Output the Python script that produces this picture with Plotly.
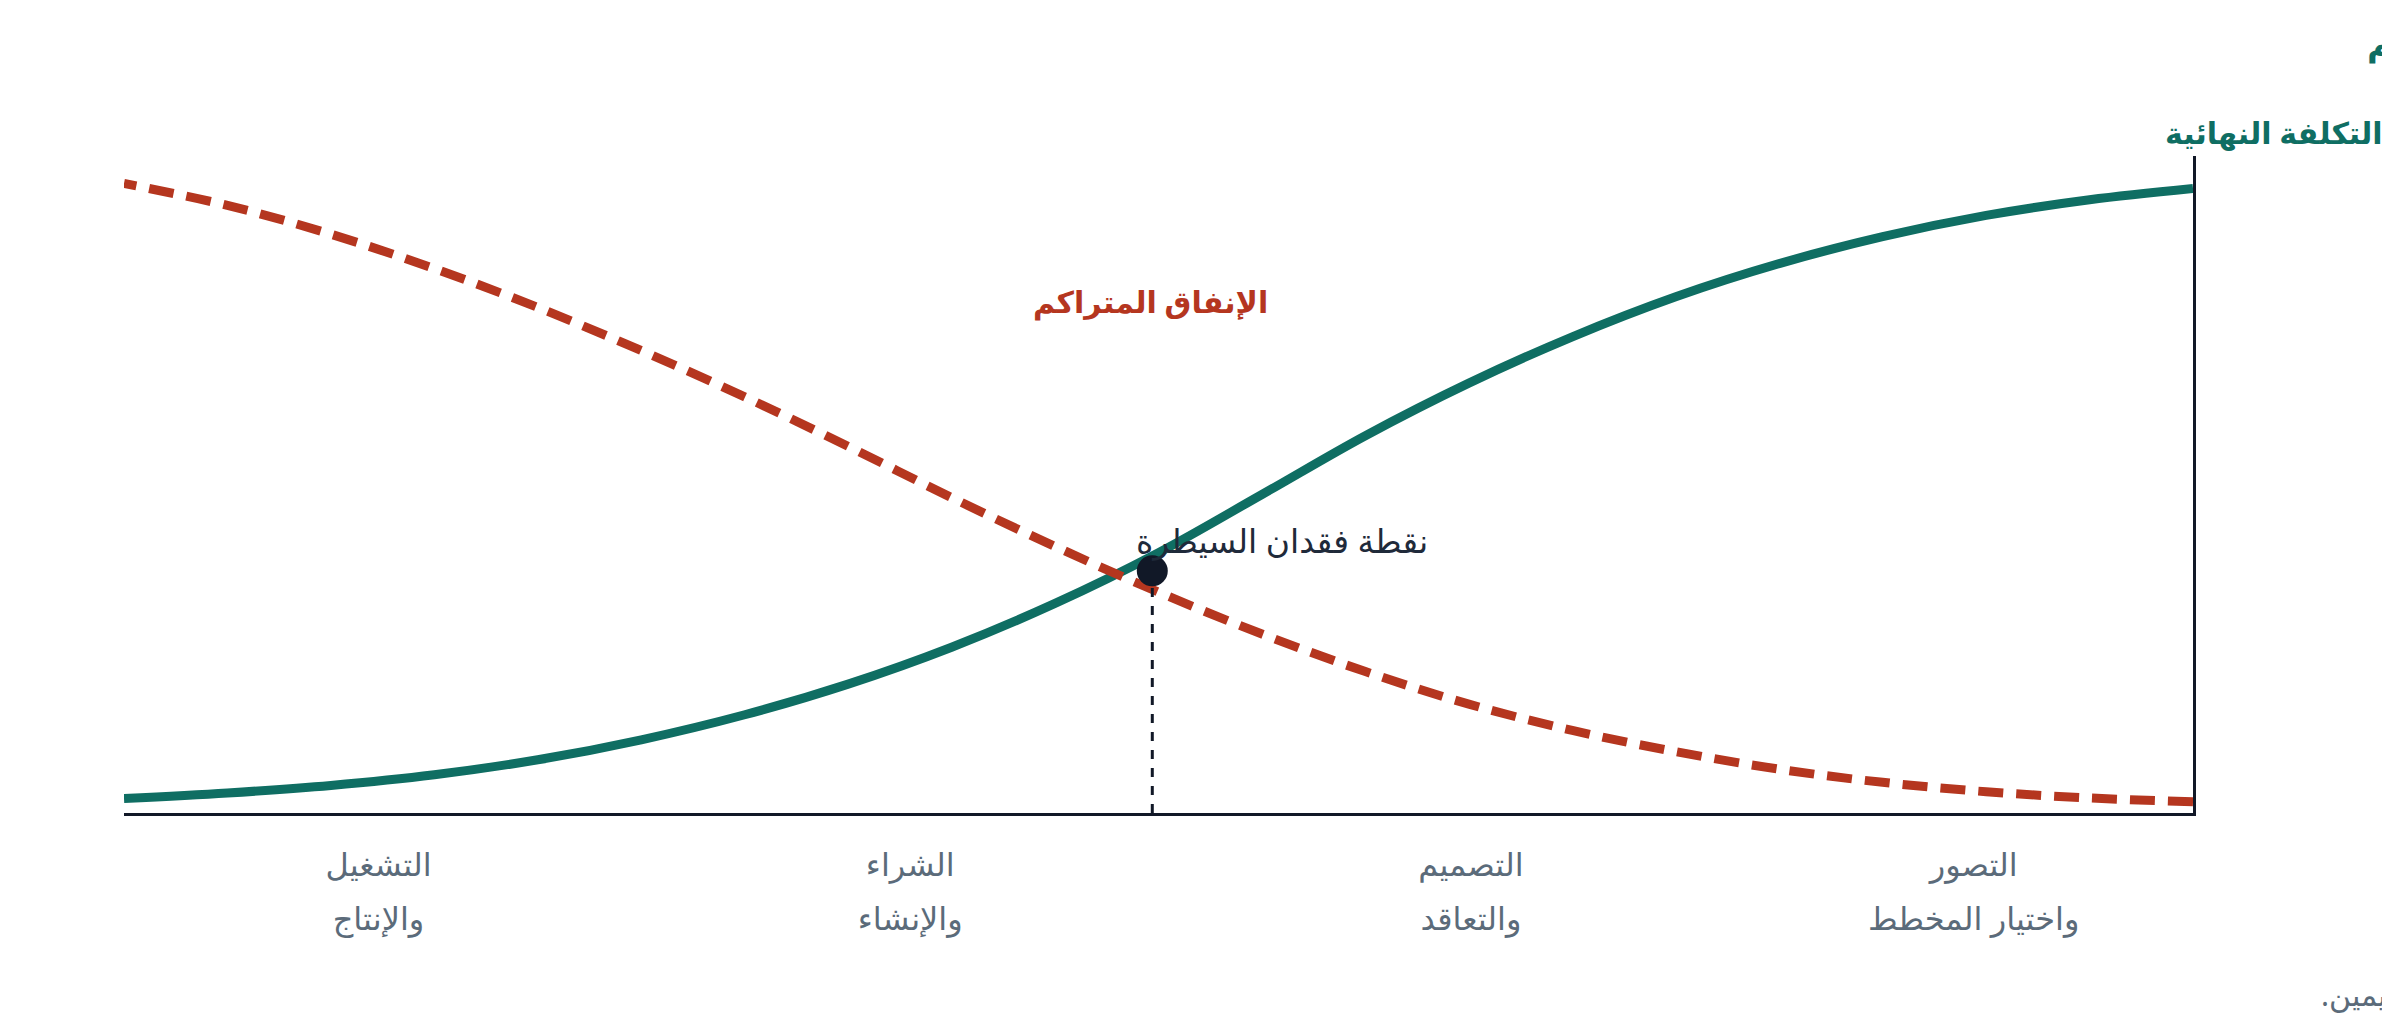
import plotly.graph_objects as go

# ---- data ----
progress = [0, 5, 10, 15, 20, 25, 30, 35, 40, 45, 50, 55, 60, 65, 70, 75, 80, 85, 90, 95, 100]
influence = [99.8, 98.0, 95.5, 92.1, 87.8, 82.5, 76.1, 68.7, 60.3, 50.9, 41.6, 33.5, 26.5, 20.6, 15.7, 11.7, 8.5, 6.1, 4.4, 3.2, 2.3]
spending = [1.8, 2.4, 3.4, 4.9, 7.0, 9.8, 13.2, 17.4, 22.6, 28.6, 35.3, 42.6, 50.4, 58.6, 66.5, 73.9, 80.8, 87.0, 92.5, 97.1, 100.6]

phase_pos = [10.6, 34.9, 62.0, 87.7]
phase_line1 = ["التصور", "التصميم", "الشراء", "التشغيل"]
phase_line2 = ["واختيار المخطط", "والتعاقد", "والإنشاء", "والإنتاج"]

control_x = [50.3]
control_y = [38.7]

title_text = "القدرة على التأثير مقابل الإنفاق المتراكم"
influence_label = "القدرة على التأثير في التكلفة النهائية"
spending_label = "الإنفاق المتراكم"
control_label = "نقطة فقدان السيطرة"
note_text = "ملاحظة: تتقدم مراحل المشروع من اليسار إلى اليمين."

TEAL = "#0f6e63"
RED = "#b5361f"
DARK = "#111827"
GRAY = "#5b6b7a"
FONT = "Noto Sans, DejaVu Sans, sans-serif"

L, R, T, B = 124, 2193, 156, 813
W, H = 2382, 1035


def px_x(p):
    return (p - L) / (R - L)


def px_y(p):
    return (B - p) / (B - T)


fig = go.Figure()

fig.add_trace(go.Scatter(
    x=progress, y=influence, mode="lines",
    line=dict(color=TEAL, width=9, shape="spline"),
    hoverinfo="skip", showlegend=False,
))
fig.add_trace(go.Scatter(
    x=progress, y=spending, mode="lines",
    line=dict(color=RED, width=9, shape="spline", dash="25px,13px"),
    hoverinfo="skip", showlegend=False,
))
# vertical dashed drop line
fig.add_trace(go.Scatter(
    x=[control_x[0], control_x[0]], y=[0, control_y[0]], mode="lines",
    line=dict(color=DARK, width=3, dash="dash"),
    hoverinfo="skip", showlegend=False,
))
fig.add_trace(go.Scatter(
    x=control_x, y=control_y, mode="markers",
    marker=dict(color=DARK, size=31),
    hoverinfo="skip", showlegend=False,
))
# second-line tick labels on an overlaying axis
fig.add_trace(go.Scatter(
    x=phase_pos, y=[None] * len(phase_pos), xaxis="x2", mode="markers",
    hoverinfo="skip", showlegend=False,
))

fig.add_annotation(x=control_x[0], y=control_y[0], xref="x", yref="y",
                   text=control_label, showarrow=False, xanchor="left", yanchor="middle",
                   xshift=-18, yshift=30, font=dict(family=FONT, size=33, color="#1f2a3a"))
fig.add_annotation(x=0.496, y=px_y(301), xref="paper", yref="paper",
                   text="<b>" + spending_label + "</b>", showarrow=False,
                   xanchor="center", yanchor="middle",
                   font=dict(family=FONT, size=30, color=RED))
fig.add_annotation(x=px_x(2163), y=px_y(132), xref="paper", yref="paper",
                   text="<b>" + influence_label + "</b>", showarrow=False,
                   xanchor="left", yanchor="middle",
                   font=dict(family=FONT, size=30, color=TEAL))
fig.add_annotation(x=px_x(2365), y=px_y(42), xref="paper", yref="paper",
                   text="<b>" + title_text + "</b>", showarrow=False,
                   xanchor="left", yanchor="middle",
                   font=dict(family=FONT, size=34, color=TEAL))
fig.add_annotation(x=px_x(2319), y=px_y(995), xref="paper", yref="paper",
                   text=note_text + "\u200f", showarrow=False,
                   xanchor="left", yanchor="middle",
                   font=dict(family=FONT, size=30, color=GRAY))

fig.update_layout(
    width=W, height=H,
    margin=dict(l=L, r=W - R, t=T, b=H - B),
    paper_bgcolor="white", plot_bgcolor="white",
    font=dict(family=FONT),
    xaxis=dict(
        range=[100, 0], showgrid=False, zeroline=False,
        showline=True, linecolor=DARK, linewidth=3,
        tickmode="array", tickvals=phase_pos, ticktext=phase_line1,
        ticks="", ticklabelstandoff=22,
        tickfont=dict(family=FONT, size=32, color=GRAY),
    ),
    xaxis2=dict(
        range=[100, 0], overlaying="x", anchor="y", side="bottom",
        showgrid=False, zeroline=False, showline=False,
        tickmode="array", tickvals=phase_pos, ticktext=phase_line2,
        ticks="", ticklabelstandoff=84,
        tickfont=dict(family=FONT, size=32, color=GRAY),
    ),
    yaxis=dict(
        range=[0, 105], showgrid=False, zeroline=False,
        showline=True, linecolor=DARK, linewidth=3, side="right",
        showticklabels=False, ticks="",
    ),
)

fig.write_html("out.html")
